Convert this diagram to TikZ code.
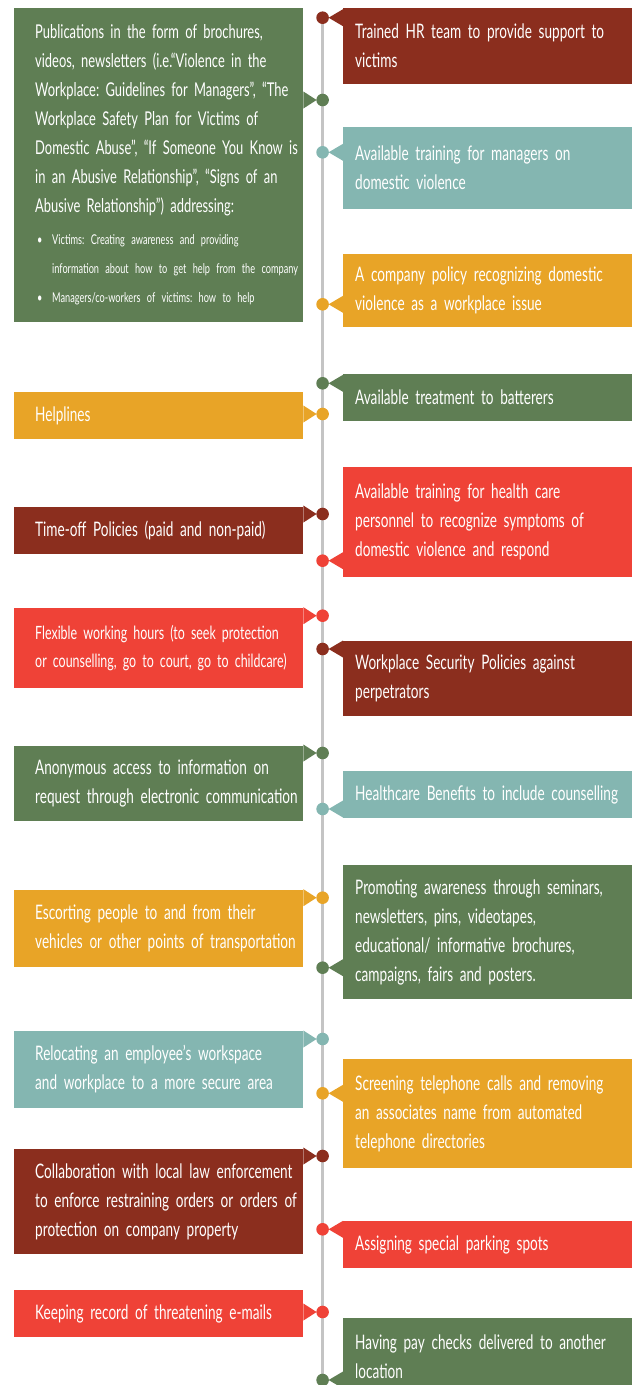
\documentclass[tikz,border=0pt]{standalone}
\usepackage{fontspec}
\setmainfont{Lato}[FakeStretch=0.68,WordSpace={0.85,0,0}]
\usepackage{tikz}
\frenchspacing

\definecolor{hrdred}{HTML}{8B2E1E}
\definecolor{hrgreen}{HTML}{5F7E54}
\definecolor{hrteal}{HTML}{84B6B1}
\definecolor{hryellow}{HTML}{E8A427}
\definecolor{hrred}{HTML}{EF4237}
\definecolor{hrgray}{HTML}{C4C4C4}

\tikzset{
    box/.style={rectangle,fill=#1,text=white,text width=289pt,inner xsep=0pt,inner ysep=0pt,
        align=left,anchor=north west,font=\fontsize{20}{29}\selectfont},
    lbox/.style={box=#1,execute at begin node={\leftskip=21pt\rightskip=0pt plus 1fill\hyphenpenalty=10000}},
    rbox/.style={box=#1,execute at begin node={\leftskip=12pt\rightskip=0pt plus 1fill\hyphenpenalty=10000}},
    dot/.style={circle,fill=#1,minimum size=12.6pt,inner sep=0pt,outer sep=0pt},
    timeline/.style={draw=hrgray,line width=2.4pt}
}

\begin{document}
\begin{tikzpicture}[x=1pt,y=-1pt]
\useasboundingbox (0,0) rectangle (632,1385);
\clip (0,0) rectangle (632,1385);

% the line
\coordinate (linestart) at (322.6,17.7);
\coordinate (lineend) at (322.6,1385);
\draw[timeline] (linestart) -- (lineend);

% left column
\node[lbox=hrgreen,minimum height=314pt,font=\fontsize{19}{29}\selectfont] (lb1) at (14,8) {Publications in the form of brochures,\\
    videos, newsletters (i.e.“Violence in the\\
    Workplace: Guidelines for Managers”, “The\\
    Workplace Safety Plan for Victims of\\
    Domestic Abuse”, “If Someone You Know is\\
    in an Abusive Relationship”, “Signs of an\\
    Abusive Relationship”) addressing:\\[3pt]
    {\fontsize{13.5}{29}\selectfont\hspace*{2pt}\makebox[15pt][l]{\textbullet}Victims: Creating awareness and providing\\
    \hspace*{17pt}information about how to get help from the company\\
    \hspace*{2pt}\makebox[15pt][l]{\textbullet}Managers/co-workers of victims: how to help}};
\node[lbox=hryellow,minimum height=46.7pt] (lb2) at (14,392) {Helplines};
\node[lbox=hrdred,minimum height=46.7pt] (lb3) at (14,507) {Time-off Policies (paid and non-paid)};
\node[lbox=hrred,minimum height=79.7pt,font=\fontsize{18.3}{28}\selectfont] (lb4) at (14,608) {Flexible working hours (to seek protection\\or counselling, go to court, go to childcare)};
\node[lbox=hrgreen,minimum height=74.7pt] (lb5) at (14,746) {Anonymous access to information on\\request through electronic communication};
\node[lbox=hryellow,minimum height=76.7pt] (lb6) at (14,890) {Escorting people to and from their\\vehicles or other points of transportation};
\node[lbox=hrteal,minimum height=76.7pt] (lb7) at (14,1031) {Relocating an employee’s workspace\\and workplace to a more secure area};
\node[lbox=hrdred,minimum height=104.7pt] (lb8) at (14,1149) {Collaboration with local law enforcement\\to enforce restraining orders or orders of\\protection on company property};
\node[lbox=hrred,minimum height=46.7pt] (lb9) at (14,1290) {Keeping record of threatening e-mails};

% right column
\node[rbox=hrdred,minimum height=76pt] (rb1) at (343,8) {Trained HR team to provide support to\\victims};
\node[rbox=hrteal,minimum height=81.7pt] (rb2) at (343,127) {Available training for managers on\\domestic violence};
\node[rbox=hryellow,minimum height=73pt] (rb3) at (343,254) {A company policy recognizing domestic\\violence as a workplace issue};
\node[rbox=hrgreen,minimum height=46.7pt] (rb4) at (343,374) {Available treatment to batterers};
\node[rbox=hrred,minimum height=109.7pt] (rb5) at (343,467) {Available training for health care\\personnel to recognize symptoms of\\domestic violence and respond};
\node[rbox=hrdred,minimum height=74.7pt] (rb6) at (343,641) {Workplace Security Policies against\\perpetrators};
\node[rbox=hrteal,minimum height=46.7pt] (rb7) at (343,771) {Healthcare Benefits to include counselling};
\node[rbox=hrgreen,minimum height=134pt] (rb8) at (343,865) {Promoting awareness through seminars,\\newsletters, pins, videotapes,\\educational/ informative brochures,\\campaigns, fairs and posters.};
\node[rbox=hryellow,minimum height=108.7pt] (rb9) at (343,1059) {Screening telephone calls and removing\\an associates name from automated\\telephone directories};
\node[rbox=hrred,minimum height=46.7pt] (rb10) at (343,1221) {Assigning special parking spots};
\node[rbox=hrgreen,minimum height=76pt] (rb11) at (343,1318) {Having pay checks delivered to another\\location};

% dots on the line
\node[dot=hrgreen] (ld1) at (322.6,100) {};
\node[dot=hryellow] (ld2) at (322.6,414) {};
\node[dot=hrdred] (ld3) at (322.6,514) {};
\node[dot=hrred] (ld4) at (322.6,615.7) {};
\node[dot=hrgreen] (ld5) at (322.6,753) {};
\node[dot=hryellow] (ld6) at (322.6,897.7) {};
\node[dot=hrteal] (ld7) at (322.6,1039) {};
\node[dot=hrdred] (ld8) at (322.6,1156) {};
\node[dot=hrred] (ld9) at (322.6,1312) {};
\node[dot=hrdred] (rd1) at (linestart) {};
\node[dot=hrteal] (rd2) at (322.6,152.3) {};
\node[dot=hryellow] (rd3) at (322.6,304.3) {};
\node[dot=hrgreen] (rd4) at (322.6,383.3) {};
\node[dot=hrred] (rd5) at (322.6,560.7) {};
\node[dot=hrdred] (rd6) at (322.6,649) {};
\node[dot=hrteal] (rd7) at (322.6,809) {};
\node[dot=hrgreen] (rd8) at (322.6,967.7) {};
\node[dot=hryellow] (rd9) at (322.6,1093.3) {};
\node[dot=hrred] (rd10) at (322.6,1229.3) {};
\node[dot=hrgreen] (rd11) at (322.6,1380) {};

% pointers
\foreach \b/\d/\c in {lb1/ld1/hrgreen,lb2/ld2/hryellow,lb3/ld3/hrdred,lb4/ld4/hrred,lb5/ld5/hrgreen,
        lb6/ld6/hryellow,lb7/ld7/hrteal,lb8/ld8/hrdred,lb9/ld9/hrred}{
    \coordinate (p) at (\b.east |- \d.center);
    \fill[\c] ([yshift=8.5pt]p) -- ([xshift=-6pt]\d.center) -- ([yshift=-8.5pt]p) -- cycle;
}
\foreach \b/\d/\c in {rb1/rd1/hrdred,rb2/rd2/hrteal,rb3/rd3/hryellow,rb4/rd4/hrgreen,rb5/rd5/hrred,
        rb6/rd6/hrdred,rb7/rd7/hrteal,rb8/rd8/hrgreen,rb9/rd9/hryellow,rb10/rd10/hrred,rb11/rd11/hrgreen}{
    \coordinate (p) at (\b.west |- \d.center);
    \fill[\c] ([yshift=8.5pt]p) -- ([xshift=6pt]\d.center) -- ([yshift=-8.5pt]p) -- cycle;
}
\end{tikzpicture}
\end{document}
